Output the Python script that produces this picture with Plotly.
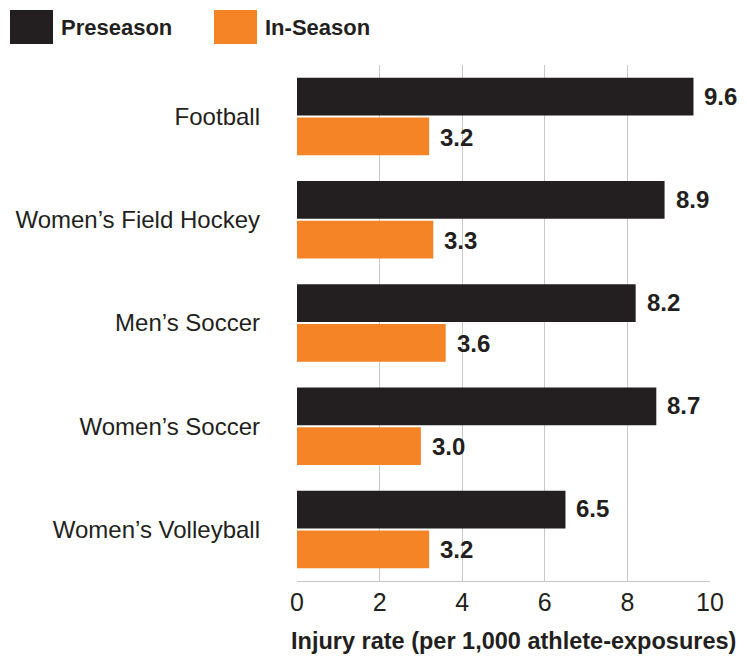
import plotly.graph_objects as go

categories = ["Football", "Women’s Field Hockey", "Men’s Soccer", "Women’s Soccer", "Women’s Volleyball"]
series_names = ["Preseason", "In-Season"]
preseason = [9.6, 8.9, 8.2, 8.7, 6.5]
in_season = [3.2, 3.3, 3.6, 3.0, 3.2]
x_ticks = [0, 2, 4, 6, 8, 10]
x_title = "Injury rate (per 1,000 athlete-exposures)"

colors = ["#231f20", "#f58426"]
font_family = "Liberation Sans, Arial, Helvetica, sans-serif"
text_color = "#231f20"

fig = go.Figure()
for name, vals, col in zip(series_names, [preseason, in_season], colors):
    fig.add_trace(go.Bar(
        y=categories, x=vals, name=name, orientation="h",
        marker=dict(color=col, line=dict(width=0)),
        showlegend=False,
    ))

# value labels
for vals, shift in [(preseason, 20.5), (in_season, -20.5)]:
    for c, v in zip(categories, vals):
        fig.add_annotation(x=v, y=c, xref="x", yref="y", text=f"<b>{v:.1f}</b>",
                           showarrow=False, xanchor="left", yanchor="middle",
                           xshift=9, yshift=shift,
                           font=dict(size=24, color=text_color, family=font_family))

W, H = 747, 657
ml, mr, mt, mb = 297, 37, 65, 76
pw, ph = W - ml - mr, H - mt - mb
def px2paper_x(px):
    return (px - ml) / pw
def px2paper_y(py):
    return (H - mb - py) / ph

legend_x = [10, 214]
for name, col, lx in zip(series_names, colors, legend_x):
    fig.add_shape(type="rect", xref="paper", yref="paper",
                  x0=px2paper_x(lx), x1=px2paper_x(lx + 43),
                  y0=px2paper_y(44), y1=px2paper_y(10),
                  fillcolor=col, line=dict(width=0))
    fig.add_annotation(xref="paper", yref="paper", x=px2paper_x(lx + 49), y=px2paper_y(27),
                       text=f"<b>{name}</b>", showarrow=False, xanchor="left", yanchor="middle",
                       font=dict(size=22, color=text_color, family=font_family))

fig.add_annotation(xref="paper", yref="paper", x=px2paper_x(513), y=px2paper_y(641),
                   text=f"<b>{x_title}</b>", showarrow=False, xanchor="center", yanchor="middle",
                   font=dict(size=23.5, color=text_color, family=font_family))

fig.update_layout(
    width=W, height=H,
    margin=dict(l=ml, r=mr, t=mt, b=mb, pad=0),
    paper_bgcolor="white", plot_bgcolor="white",
    barmode="group", bargap=0.23, bargroupgap=0.05,
    font=dict(family=font_family, color=text_color, size=24),
)
fig.update_xaxes(range=[0, 10], tickvals=x_ticks, ticktext=[str(t) for t in x_ticks],
                 showgrid=True, gridcolor="#c8c8c8", gridwidth=1,
                 showline=True, linecolor="#c8c8c8", linewidth=1,
                 zeroline=False, ticks="", ticklabelstandoff=-1,
                 tickfont=dict(size=25, color=text_color, family=font_family))
fig.update_yaxes(autorange="reversed", showgrid=False, showline=False, zeroline=False,
                 ticks="", ticklabelstandoff=36,
                 tickfont=dict(size=24, color=text_color, family=font_family))

fig.write_html("out.html", config={"displayModeBar": False},
               post_script="document.body.style.margin='0';document.body.style.overflow='hidden';")
